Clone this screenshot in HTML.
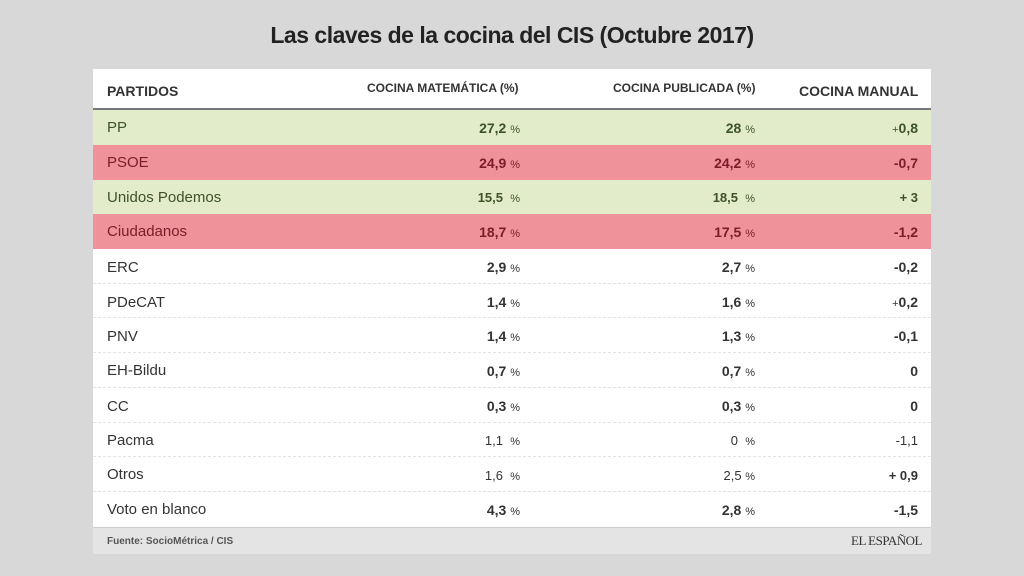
<!DOCTYPE html>
<html><head><meta charset="utf-8"><style>
body{margin:0;width:1024px;height:576px;background:#d8d8d8;font-family:"Liberation Sans",sans-serif;position:relative;overflow:hidden}
.t{position:absolute;left:0;width:1024px;top:22px;text-align:center;font-weight:bold;font-size:23px;color:#222;letter-spacing:-0.5px}
.panel{position:absolute;left:93px;top:69px;width:838px;height:458px;background:#fff}
.foot{position:absolute;left:93px;top:527px;width:838px;height:26px;background:#e4e4e4;border-top:1px solid #ccc}
.h{position:absolute;font-weight:bold;color:#333}
.hl{position:absolute;left:93px;top:108px;width:838px;height:2px;background:#777}
.r{position:absolute;left:93px;width:838px;font-size:15px;color:#333}
.r.g{background:#e2ecca;color:#3d5228}
.r.p{background:#f0929a;color:#7d1c26}
.r.w{border-bottom:1px dashed #e2e2e2;box-sizing:border-box}
.r > span{position:absolute;line-height:1}
.n{left:14px}
.v{font-weight:bold;font-size:14px}
.r span.pc{position:static;font-size:11px;font-weight:normal}
.a{right:411px}.b{right:176px}.c{right:13px}
</style></head><body>
<div class="t">Las claves de la cocina del CIS (Octubre 2017)</div>
<div class="panel"></div>
<div class="h" style="left:107px;top:83px;font-size:14px">PARTIDOS</div>
<div class="h" style="left:367px;top:81px;font-size:12px">COCINA MATEMÁTICA (%)</div>
<div class="h" style="left:613px;top:81px;font-size:12px">COCINA PUBLICADA (%)</div>
<div class="h" style="left:799px;top:83px;font-size:14px">COCINA MANUAL</div>
<div class="hl"></div>
<div class="r g" style="top:110px;height:35px"><span class="n" style="top:10px">PP</span><span class="v a" style="top:11px">27,2 <span class="pc">%</span></span><span class="v b" style="top:11px">28 <span class="pc">%</span></span><span class="v c" style="top:11px"><span class="pc">+</span>0,8</span></div>
<div class="r p" style="top:145px;height:35px"><span class="n" style="top:10px">PSOE</span><span class="v a" style="top:11px">24,9 <span class="pc">%</span></span><span class="v b" style="top:11px">24,2 <span class="pc">%</span></span><span class="v c" style="top:11px">-0,7</span></div>
<div class="r g" style="top:180px;height:34px"><span class="n" style="top:10px">Unidos Podemos</span><span class="v a" style="top:11px;font-size:13px">15,5 &nbsp;<span class="pc">%</span></span><span class="v b" style="top:11px;font-size:13px">18,5 &nbsp;<span class="pc">%</span></span><span class="v c" style="top:11px;font-size:13px">+ 3</span></div>
<div class="r p" style="top:214px;height:35px"><span class="n" style="top:10px">Ciudadanos</span><span class="v a" style="top:11px">18,7 <span class="pc">%</span></span><span class="v b" style="top:11px">17,5 <span class="pc">%</span></span><span class="v c" style="top:11px">-1,2</span></div>
<div class="r w" style="top:249px;height:35px"><span class="n" style="top:11px">ERC</span><span class="v a" style="top:11px">2,9 <span class="pc">%</span></span><span class="v b" style="top:11px">2,7 <span class="pc">%</span></span><span class="v c" style="top:11px">-0,2</span></div>
<div class="r w" style="top:284px;height:34px"><span class="n" style="top:11px">PDeCAT</span><span class="v a" style="top:11px">1,4 <span class="pc">%</span></span><span class="v b" style="top:11px">1,6 <span class="pc">%</span></span><span class="v c" style="top:11px"><span class="pc">+</span>0,2</span></div>
<div class="r w" style="top:318px;height:35px"><span class="n" style="top:11px">PNV</span><span class="v a" style="top:11px">1,4 <span class="pc">%</span></span><span class="v b" style="top:11px">1,3 <span class="pc">%</span></span><span class="v c" style="top:11px">-0,1</span></div>
<div class="r w" style="top:353px;height:35px"><span class="n" style="top:10px">EH-Bildu</span><span class="v a" style="top:11px">0,7 <span class="pc">%</span></span><span class="v b" style="top:11px">0,7 <span class="pc">%</span></span><span class="v c" style="top:11px">0</span></div>
<div class="r w" style="top:388px;height:35px"><span class="n" style="top:11px">CC</span><span class="v a" style="top:11px">0,3 <span class="pc">%</span></span><span class="v b" style="top:11px">0,3 <span class="pc">%</span></span><span class="v c" style="top:11px">0</span></div>
<div class="r w" style="top:423px;height:34px"><span class="n" style="top:10px">Pacma</span><span class="a" style="top:11px;font-size:13px">1,1 &nbsp;<span class="pc">%</span></span><span class="b" style="top:11px;font-size:13px">0 &nbsp;<span class="pc">%</span></span><span class="c" style="top:11px;font-size:13px">-1,1</span></div>
<div class="r w" style="top:457px;height:35px"><span class="n" style="top:10px">Otros</span><span class="a" style="top:12px;font-size:13px">1,6 &nbsp;<span class="pc">%</span></span><span class="b" style="top:12px;font-size:13px">2,5 <span class="pc">%</span></span><span class="c" style="top:12px;font-size:13px;font-weight:bold">+ 0,9</span></div>
<div class="r" style="top:492px;height:35px"><span class="n" style="top:10px">Voto en blanco</span><span class="v a" style="top:11px">4,3 <span class="pc">%</span></span><span class="v b" style="top:11px">2,8 <span class="pc">%</span></span><span class="v c" style="top:11px">-1,5</span></div>
<div class="foot"></div>
<div style="position:absolute;left:107px;top:536px;font-size:10px;font-weight:bold;color:#555">Fuente: SocioMétrica / CIS</div>
<div style="position:absolute;right:102px;top:533px;font-size:13px;font-family:'Liberation Serif',serif;color:#333;letter-spacing:-0.5px">EL ESPAÑOL</div>
</body></html>
